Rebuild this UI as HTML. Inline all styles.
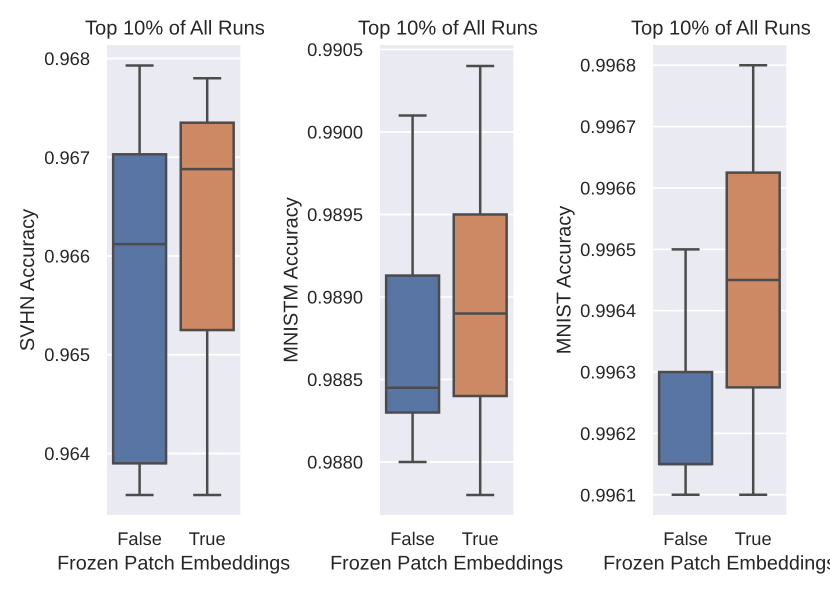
<!DOCTYPE html>
<html lang="en">
<head>
<meta charset="utf-8">
<title>Top 10% of All Runs</title>
<style>
html,body{margin:0;padding:0;background:#fff;width:830px;height:593px;overflow:hidden}
svg{display:block}
text{font-family:"Liberation Sans",Arial,sans-serif;fill:#262626;text-rendering:geometricPrecision}
</style>
</head>
<body>
<svg id="chart" width="830" height="593" viewBox="0 0 830 593" xmlns="http://www.w3.org/2000/svg"></svg>
<script>
const categories = ['False', 'True'];
const chartTitle = 'Top 10% of All Runs';
const xAxisTitle = 'Frozen Patch Embeddings';

const svhnLabel = 'SVHN Accuracy';
const svhnTicks = ['0.968', '0.967', '0.966', '0.965', '0.964'];
const svhnLimits = [0.963377, 0.968137];
const svhnFalse = [0.96358, 0.9639, 0.96612, 0.96703, 0.96793];
const svhnTrue = [0.96358, 0.96525, 0.96688, 0.96735, 0.9678];

const mnistmLabel = 'MNISTM Accuracy';
const mnistmTicks = ['0.9905', '0.9900', '0.9895', '0.9890', '0.9885', '0.9880'];
const mnistmLimits = [0.987679, 0.990527];
const mnistmFalse = [0.988, 0.9883, 0.98845, 0.98913, 0.9901];
const mnistmTrue = [0.9878, 0.9884, 0.9889, 0.9895, 0.9904];

const mnistLabel = 'MNIST Accuracy';
const mnistTicks = ['0.9968', '0.9967', '0.9966', '0.9965', '0.9964', '0.9963', '0.9962', '0.9961'];
const mnistLimits = [0.996067, 0.996833];
const mnistFalse = [0.9961, 0.99615, 0.99615, 0.9963, 0.9965];
const mnistTrue = [0.9961, 0.996275, 0.99645, 0.996625, 0.9968];

const boxColors = ['#5875a4', '#cc8963'];
const NS = 'http://www.w3.org/2000/svg';
const root = document.getElementById('chart');

function make(parent, tag, attrs, content) {
  const el = document.createElementNS(NS, tag);
  for (const key in attrs) el.setAttribute(key, attrs[key]);
  if (content !== undefined) el.textContent = content;
  parent.appendChild(el);
  return el;
}

function drawPanel(slug, left, yLabelX, tickRight, label, ticks, limits, seriesA, seriesB) {
  const top = 45, bottom = 515, width = 133.3;
  const yScale = v => bottom - (v - limits[0]) / (limits[1] - limits[0]) * (bottom - top);
  const xScale = i => left + 32.6 + 67.6 * i;
  const step = width / categories.length;

  const group = make(root, 'g', {});
  
  

  const bg = make(group, 'rect', {x: left, y: top, width: width, height: bottom - top, fill: '#eaeaf2'});
  
  

  const title = make(group, 'text', {x: left + width / 2 + 1.3, y: 34.5, 'text-anchor': 'middle', 'font-size': 20.1}, chartTitle);
  
  

  ticks.forEach(t => {
    const y = yScale(parseFloat(t));
    const grid = make(group, 'line', {x1: left, x2: left + width, y1: y, y2: y, stroke: '#ffffff', 'stroke-width': 1.7});
    
    
    const tickText = make(group, 'text', {x: tickRight, y: y + 6.5, 'text-anchor': 'end', 'font-size': 18.3}, t);
    
    
  });

  [seriesA, seriesB].forEach((s, i) => {
    const cx = xScale(i);
    const boxWidth = step * 0.8 - 0.4, capWidth = step * 0.42;
    const [low, q1, med, q3, high] = s;
    const box = make(group, 'g', {stroke: '#4c4c4c', 'stroke-width': 2.5, fill: 'none'});
    
    
    make(box, 'line', {x1: cx, x2: cx, y1: yScale(q3), y2: yScale(high)});
    make(box, 'line', {x1: cx, x2: cx, y1: yScale(q1), y2: yScale(low)});
    make(box, 'line', {x1: cx - capWidth / 2, x2: cx + capWidth / 2, y1: yScale(high), y2: yScale(high)});
    make(box, 'line', {x1: cx - capWidth / 2, x2: cx + capWidth / 2, y1: yScale(low), y2: yScale(low)});
    make(box, 'rect', {x: cx - boxWidth / 2, width: boxWidth, y: yScale(q3), height: yScale(q1) - yScale(q3), fill: boxColors[i]});
    make(box, 'line', {x1: cx - boxWidth / 2, x2: cx + boxWidth / 2, y1: yScale(med), y2: yScale(med)});

    const catText = make(group, 'text', {x: cx, y: 545, 'text-anchor': 'middle', 'font-size': 18.3}, categories[i]);
    
    
  });

  const xTitle = make(group, 'text', {x: left + width / 2, y: 569.7, 'text-anchor': 'middle', 'font-size': 19.8}, xAxisTitle);
  
  

  const yTitle = make(group, 'text', {x: yLabelX, y: 280, 'text-anchor': 'middle', 'font-size': 20, transform: 'rotate(-90 ' + yLabelX + ' 280)'}, label);
  
  
}

drawPanel('svhn', 107, 34, 90, svhnLabel, svhnTicks, svhnLimits, svhnFalse, svhnTrue);
drawPanel('mnistm', 380, 297.5, 363, mnistmLabel, mnistmTicks, mnistmLimits, mnistmFalse, mnistmTrue);
drawPanel('mnist', 653, 570.5, 636, mnistLabel, mnistTicks, mnistLimits, mnistFalse, mnistTrue);
</script>
</body>
</html>
